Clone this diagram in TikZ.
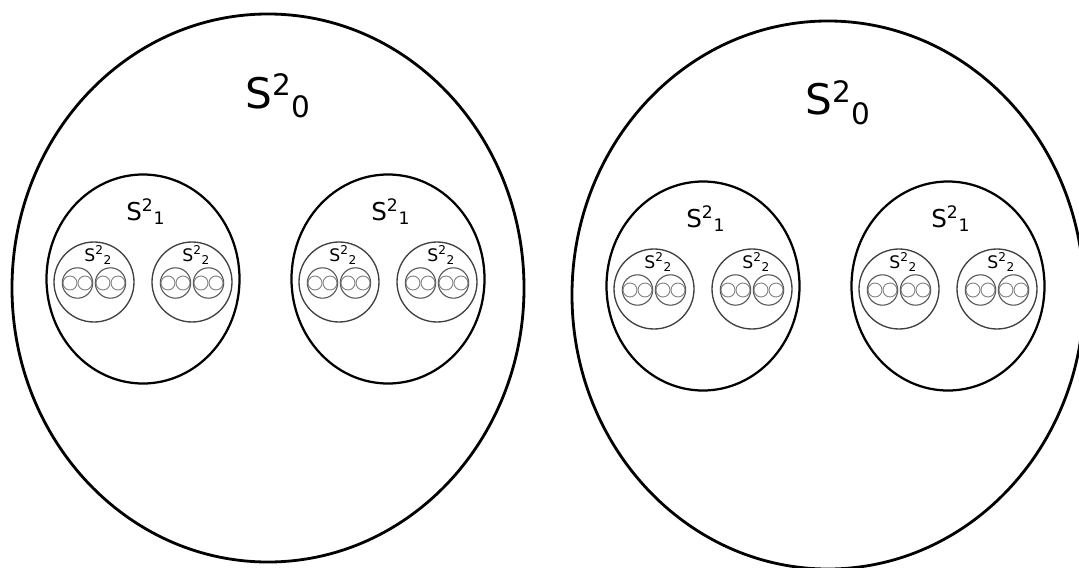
\documentclass[tikz,border=0pt]{standalone}
\usepackage{fontspec}
\setmainfont{DejaVu Sans}
\usetikzlibrary{positioning, calc, shapes.geometric}

\newcommand{\slab}[1]{S\textsuperscript{2}\textsubscript{#1}}

\begin{document}
\begin{tikzpicture}[
  x=0.25mm, y=-0.25mm,
  set0/.style = {draw, ellipse, line width=2pt, inner sep=0pt, minimum width=128mm, minimum height=137mm},
  set1/.style = {draw, ellipse, line width=1.6pt, inner sep=0pt, minimum width=48.25mm, minimum height=52.25mm},
  set2/.style = {draw=black!75, circle, line width=0.95pt, inner sep=0pt, minimum size=20mm},
  set3/.style = {draw=black!65, circle, line width=0.8pt, inner sep=0pt, minimum size=7.6mm},
  set4/.style = {draw=black!50, circle, line width=0.65pt, inner sep=0pt, minimum size=3.5mm},
  lab0/.style = {font=\fontsize{30}{36}\selectfont, anchor=base west, inner sep=0pt},
  lab1/.style = {font=\fontsize{17.5}{21}\selectfont, anchor=base west, inner sep=0pt},
  lab2/.style = {font=\fontsize{12.3}{15}\selectfont, anchor=base west, inner sep=0pt},
]
  \useasboundingbox (0,0) rectangle (1079,568);
  \clip (0,0) rectangle (1079,568);

  % ---- two copies of the same nested family, right one shifted ----
  \foreach \s/\dx/\dy in {A/0/0, B/560/7} {
    \begin{scope}[shift={(\dx,\dy)}]
      \node[set0] (\s) at (268,288) {};
      \node[lab0]      at (245,108) {\slab{0}};

      \foreach \i/\cx in {1/143, 2/388} {
        \node[set1] (\s\i) at (\cx,279) {};
        \node[lab1] at ($(\s\i)+(-17,-59)$) {\slab{1}};

        % level 2: two circles per ellipse, each with two pairs inside
        \foreach \j/\ox in {1/-49, 2/49} {
          \node[set2] (\s\i\j) at ($(\s\i)+(\ox,3)$) {};
          \foreach \k/\oy in {1/-16.5, 2/16.5} {
            \node[set3] (\s\i\j\k) at ($(\s\i\j)+(\oy,1)$) {};
            \foreach \m/\oz in {1/-7.5, 2/7.5}
              \node[set4] (\s\i\j\k\m) at ($(\s\i\j\k)+(\oz,0)$) {};
          }
          \node[lab2] at ($(\s\i\j)+(-10,-21)$) {\slab{2}};
        }
      }
    \end{scope}
  }
\end{tikzpicture}
\end{document}
